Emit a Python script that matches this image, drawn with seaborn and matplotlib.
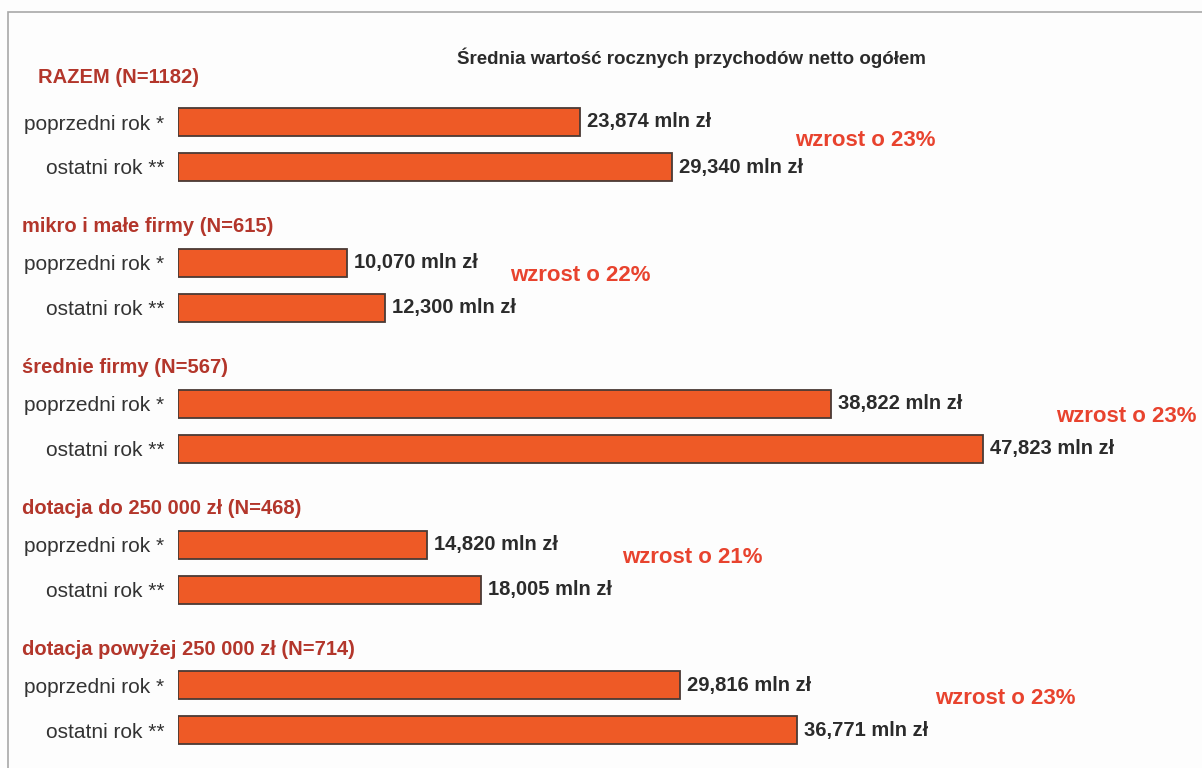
import numpy as np
import pandas as pd
import matplotlib.pyplot as plt
import seaborn as sns
from matplotlib.patches import Rectangle

# dane z wykresu (mln zł)
groups = ['RAZEM (N=1182)', 'mikro i małe firmy (N=615)', 'średnie firmy (N=567)',
          'dotacja do 250 000 zł (N=468)', 'dotacja powyżej 250 000 zł (N=714)']
prev_year = [23.874, 10.070, 38.822, 14.820, 29.816]
last_year = [29.340, 12.300, 47.823, 18.005, 36.771]
row_labels = ['poprzedni rok *', 'ostatni rok **']
title = 'Średnia wartość rocznych przychodów netto ogółem'

# układ (piksele / jednostki osi)
wzrost_x = [795, 510, 1056, 622, 935]
GAP = 3.13
W, H = 1202, 768
PX_X = 16.83   # px na 1 mln zł
PX_Y = 45.0    # px na 1 wiersz
X0, Y0 = 178, 122

bar_color = '#EE5A26'
head_color = '#B3362B'
red = '#E8432E'
dark = '#2B2B2B'

rows = []
for g in range(len(groups)):
    for k, vals in enumerate([prev_year, last_year]):
        rows.append({'pos': g * GAP + k, 'value': vals[g], 'okres': row_labels[k]})
df = pd.DataFrame(rows)

sns.set_theme(style='white')
plt.rcParams['font.family'] = ['Liberation Sans', 'DejaVu Sans']

fig = plt.figure(figsize=(W / 100, H / 100), dpi=100)
fig.patch.set_facecolor('#FDFDFD')
ax = fig.add_axes([X0 / W, 0, (W - X0) / W, 1])
ax.set_facecolor('none')

sns.barplot(data=df, x='value', y='pos', orient='h', native_scale=True, width=0.62,
            color=bar_color, edgecolor='#4A3A35', linewidth=1.3, errorbar=None,
            saturation=1, ax=ax)

ax.set_xlim(0, (W - X0) / PX_X)
ax.set_ylim((H - Y0) / PX_Y, -Y0 / PX_Y)
ax.set_yticks(df['pos'])
ax.set_yticklabels(df['okres'], fontsize=15, color='#333333')
ax.tick_params(axis='y', length=0, pad=10)
ax.set_xticks([])
ax.set_xlabel('')
ax.set_ylabel('')
for s in ax.spines.values():
    s.set_visible(False)

# etykiety wartości
for _, r in df.iterrows():
    ax.text(r['value'] + 7 / PX_X, r['pos'], f"{r['value']:.3f}".replace('.', ',') + ' mln zł',
            va='center', ha='left', fontsize=14.5, fontweight='bold', color=dark)

# nagłówki grup i wzrost
for g, name in enumerate(groups):
    hx = 38 if g == 0 else 22
    hoff = -0.98 if g == 0 else -0.8
    ax.text((hx - X0) / PX_X, g * GAP + hoff, name, ha='left', va='center',
            fontsize=14.5, fontweight='bold', color=head_color)
    growth = round((last_year[g] / prev_year[g] - 1) * 100)
    woff = 0.4 if g == 0 else 0.28
    ax.text((wzrost_x[g] - X0) / PX_X, g * GAP + woff, f'wzrost o {growth}%',
            ha='left', va='center', fontsize=16, fontweight='bold', color=red)

fig.text(691 / W, 1 - 58 / H, title, ha='center', va='center', fontsize=13.5,
         fontweight='bold', color=dark)

# ramka
fig.add_artist(Rectangle((8 / W, -0.05), 1.1, 1 - 12 / H + 0.05, transform=fig.transFigure,
                         fill=False, edgecolor='#A8A8A8', linewidth=1.2))

fig.savefig('out.png', dpi=100, facecolor=fig.get_facecolor())
